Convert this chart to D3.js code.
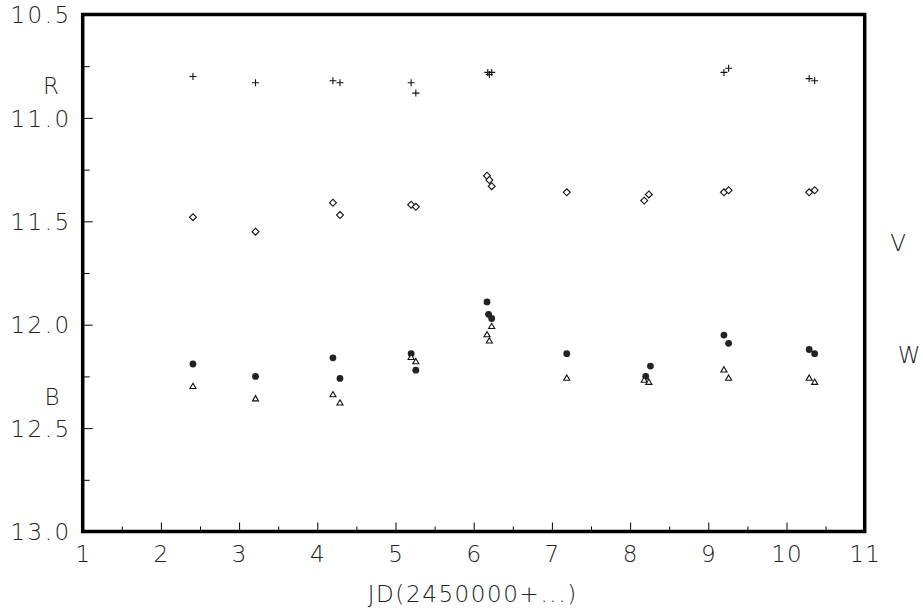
<!DOCTYPE html>
<html>
<head>
<meta charset="utf-8">
<script src="https://cdn.jsdelivr.net/npm/d3@7"></script>
<style>
  body { margin: 0; background: #fff; }
  text { font-family: "DejaVu Sans", sans-serif; font-weight: 200; fill: #222; }
</style>
</head>
<body>
<div id="chart"></div>
<script>
// R band (plus)
var rX = [2.41, 3.21, 4.2, 4.29, 5.2, 5.26, 6.18, 6.2, 6.23, 9.2, 9.26, 10.29, 10.36];
var rY = [10.80, 10.83, 10.82, 10.83, 10.83, 10.88, 10.78, 10.79, 10.78, 10.78, 10.76, 10.81, 10.82];
// V band (diamond)
var vX = [2.41, 3.21, 4.2, 4.29, 5.2, 5.26, 6.17, 6.2, 6.23, 7.19, 8.18, 8.24, 9.2, 9.26, 10.29, 10.36];
var vY = [11.48, 11.55, 11.41, 11.47, 11.42, 11.43, 11.28, 11.30, 11.33, 11.36, 11.40, 11.37, 11.36, 11.35, 11.36, 11.35];
// W band (filled dot)
var wX = [2.41, 3.21, 4.2, 4.29, 5.2, 5.26, 6.17, 6.19, 6.23, 7.19, 8.26, 8.2, 9.2, 9.26, 10.29, 10.36];
var wY = [12.19, 12.25, 12.16, 12.26, 12.14, 12.22, 11.89, 11.95, 11.97, 12.14, 12.20, 12.25, 12.05, 12.09, 12.12, 12.14];
// B band (triangle)
var bX = [2.41, 3.21, 4.2, 4.29, 5.2, 5.26, 6.23, 6.17, 6.2, 7.19, 8.18, 8.24, 9.2, 9.26, 10.29, 10.36];
var bY = [12.30, 12.36, 12.34, 12.38, 12.16, 12.18, 12.01, 12.05, 12.08, 12.26, 12.27, 12.28, 12.22, 12.26, 12.26, 12.28];

var xTicks = [1, 2, 3, 4, 5, 6, 7, 8, 9, 10, 11];
var xMinor = [1.5, 2.5, 3.5, 4.5, 5.5, 6.5, 7.5, 8.5, 9.5, 10.5];
var yTicks = [10.5, 11.0, 11.5, 12.0, 12.5, 13.0];
var yMinor = [10.75, 11.25, 11.75, 12.25, 12.75];

var w = 923, h = 614;
var pL = 82.7, pR = 864.7, pT = 14.5, pB = 531.5;

var x = d3.scaleLinear().domain([1, 11]).range([pL, pR]);
var y = d3.scaleLinear().domain([10.5, 13.0]).range([pT, pB]);

var svg = d3.select("#chart").append("svg").attr("width", w).attr("height", h);

// ticks (inward)
function tickAxis(axis, tx, ty) {
  var g = svg.append("g").attr("transform", "translate(" + tx + "," + ty + ")").call(axis);
  g.select(".domain").remove();
  g.selectAll(".tick line").attr("stroke", "#000").attr("stroke-width", 1);
  return g;
}

var gx = tickAxis(d3.axisBottom(x).tickValues(xTicks).tickSize(-9).tickFormat(d3.format("d")), 0, pB);
gx.selectAll("text").attr("font-size", 23).attr("dy", null).attr("y", 30)
  .style("letter-spacing", "1px");
tickAxis(d3.axisBottom(x).tickValues(xMinor).tickSize(-5).tickFormat(""), 0, pB);

var gy = tickAxis(d3.axisLeft(y).tickValues(yTicks).tickSize(-10).tickFormat(d3.format(".1f")), pL, 0);
gy.selectAll("text").attr("font-size", 23).attr("x", -11).attr("dy", "0.36em")
  .style("letter-spacing", "2.5px");
tickAxis(d3.axisLeft(y).tickValues(yMinor).tickSize(-7).tickFormat(""), pL, 0);
// d3 axis sets font-family on the group; let the css rule win
svg.selectAll("g").attr("font-family", null);

// frame
svg.append("rect")
  .attr("x", pL).attr("y", pT)
  .attr("width", pR - pL).attr("height", pB - pT)
  .attr("fill", "none").attr("stroke", "#000").attr("stroke-width", 3.5);

// markers
svg.append("g").selectAll("path").data(d3.zip(rX, rY)).enter().append("path")
  .attr("d", function (d) {
    var cx = x(d[0]), cy = y(d[1]), s = 3.5;
    return "M" + (cx - s) + "," + cy + "H" + (cx + s) + "M" + cx + "," + (cy - s) + "V" + (cy + s);
  })
  .attr("stroke", "#111").attr("stroke-width", 1.1).attr("fill", "none");

var diamond = d3.symbol().type(d3.symbolSquare).size(24);
svg.append("g").selectAll("path").data(d3.zip(vX, vY)).enter().append("path")
  .attr("d", diamond)
  .attr("transform", function (d) { return "translate(" + x(d[0]) + "," + y(d[1]) + ") rotate(45)"; })
  .attr("fill", "#fff").attr("stroke", "#111").attr("stroke-width", 1.1);

svg.append("g").selectAll("circle").data(d3.zip(wX, wY)).enter().append("circle")
  .attr("cx", function (d) { return x(d[0]); })
  .attr("cy", function (d) { return y(d[1]); })
  .attr("r", 3.4)
  .attr("fill", "#222");

var tri = d3.symbol().type(d3.symbolTriangle).size(16);
svg.append("g").selectAll("path").data(d3.zip(bX, bY)).enter().append("path")
  .attr("d", tri)
  .attr("transform", function (d) { return "translate(" + x(d[0]) + "," + y(d[1]) + ")"; })
  .attr("fill", "#fff").attr("stroke", "#111").attr("stroke-width", 1.1);

// band labels
var bandLabels = [
  { t: "R", x: 51, y: 94 },
  { t: "B", x: 52, y: 405 },
  { t: "V", x: 898, y: 251 },
  { t: "W", x: 909, y: 363 }
];
svg.append("g").selectAll("text").data(bandLabels).enter().append("text")
  .attr("x", function (d) { return d.x; })
  .attr("y", function (d) { return d.y; })
  .attr("text-anchor", "middle")
  .attr("font-size", 23)
  .text(function (d) { return d.t; });

// axis title
svg.append("text")
  .attr("x", (pL + pR) / 2 - 1)
  .attr("y", 602)
  .attr("text-anchor", "middle")
  .attr("font-size", 23)
  .style("letter-spacing", "1.6px")
  .text("JD(2450000+...)");
</script>
</body>
</html>
